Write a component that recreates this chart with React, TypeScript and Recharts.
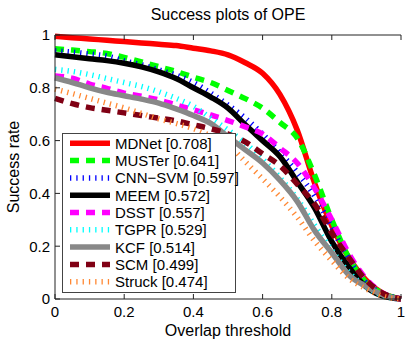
import React from "react";
import { LineChart, Line, XAxis, YAxis, Legend } from "recharts";

// overlap thresholds
const thresholds = [
  0, 0.05, 0.1, 0.15, 0.2, 0.25, 0.3, 0.35, 0.4, 0.45, 0.5, 0.55, 0.6, 0.65, 0.7, 0.75, 0.8, 0.85, 0.9, 0.95, 1,
];

const mdnet = [0.995, 0.99, 0.985, 0.98, 0.975, 0.97, 0.965, 0.96, 0.95, 0.94, 0.925, 0.895, 0.855, 0.775, 0.64, 0.44, 0.277, 0.155, 0.07, 0.02, 0];
const muster = [0.948, 0.943, 0.937, 0.93, 0.915, 0.898, 0.88, 0.862, 0.84, 0.82, 0.79, 0.759, 0.723, 0.669, 0.61, 0.47, 0.3, 0.155, 0.062, 0.02, 0];
const cnnSvm = [0.94, 0.935, 0.928, 0.92, 0.902, 0.887, 0.868, 0.848, 0.82, 0.78, 0.735, 0.685, 0.625, 0.555, 0.48, 0.39, 0.27, 0.15, 0.06, 0.02, 0];
const meem = [0.925, 0.918, 0.91, 0.903, 0.893, 0.879, 0.86, 0.835, 0.8, 0.765, 0.723, 0.66, 0.6, 0.54, 0.444, 0.345, 0.217, 0.12, 0.045, 0.01, 0];
const dsst = [0.845, 0.836, 0.814, 0.798, 0.78, 0.768, 0.754, 0.735, 0.717, 0.697, 0.676, 0.652, 0.625, 0.572, 0.515, 0.42, 0.3, 0.17, 0.075, 0.02, 0];
const tgpr = [0.87, 0.862, 0.85, 0.835, 0.82, 0.805, 0.785, 0.76, 0.73, 0.685, 0.64, 0.59, 0.53, 0.46, 0.38, 0.28, 0.185, 0.1, 0.045, 0.012, 0];
const kcf = [0.838, 0.82, 0.8, 0.783, 0.77, 0.757, 0.742, 0.72, 0.695, 0.665, 0.615, 0.565, 0.515, 0.45, 0.37, 0.26, 0.175, 0.09, 0.047, 0.015, 0];
const scm = [0.76, 0.74, 0.725, 0.715, 0.705, 0.695, 0.685, 0.675, 0.66, 0.645, 0.625, 0.595, 0.55, 0.505, 0.435, 0.36, 0.25, 0.155, 0.07, 0.02, 0];
const struck = [0.795, 0.778, 0.76, 0.742, 0.724, 0.703, 0.682, 0.665, 0.645, 0.618, 0.585, 0.52, 0.455, 0.387, 0.31, 0.22, 0.145, 0.078, 0.038, 0.01, 0];

const trackers = ["MDNet", "MUSTer", "CNN\u2212SVM", "MEEM", "DSST", "TGPR", "KCF", "SCM", "Struck"];
const scores = ["0.708", "0.641", "0.597", "0.572", "0.557", "0.529", "0.514", "0.499", "0.474"];
const values = [mdnet, muster, cnnSvm, meem, dsst, tgpr, kcf, scm, struck];

const axisTicks = [0, 0.2, 0.4, 0.6, 0.8, 1];

const DASH = "9 7";
const DOT = "1.3 5";
const styles = [
  { color: "#ff0000", dash: undefined },
  { color: "#00ff00", dash: DASH },
  { color: "#0000ff", dash: DOT },
  { color: "#000000", dash: undefined },
  { color: "#ff00ff", dash: DASH },
  { color: "#00ffff", dash: DOT },
  { color: "#888888", dash: undefined },
  { color: "#800014", dash: DASH },
  { color: "#ff8833", dash: DOT },
];

const data = thresholds.map((t, i) => {
  const row: Record<string, number> = { t };
  trackers.forEach((name, k) => {
    row[name] = values[k][i];
  });
  return row;
});

const FONT = '"Liberation Sans", Arial, Helvetica, sans-serif';
const AXIS = "#222";

function LegendBox() {
  return (
    <div
      style={{
        width: 174,
        height: 160,
        boxSizing: "border-box",
        border: "1px solid #444",
        background: "#fff",
      }}
    >
      <svg width={172} height={158} style={{ display: "block", overflow: "visible" }}>
        {trackers.map((name, i) => {
          const y = 9.3 + i * 17.3;
          return (
            <g key={name}>
              <line
                x1={7}
                x2={47}
                y1={y}
                y2={y}
                stroke={styles[i].color}
                strokeWidth={5.5}
                strokeDasharray={styles[i].dash}
              />
              <text
                x={52}
                y={y}
                dominantBaseline="central"
                fontSize={15}
                fontFamily={FONT}
                fill="#000"
              >
                {`${name} [${scores[i]}]`}
              </text>
            </g>
          );
        })}
      </svg>
    </div>
  );
}

export default function App() {
  return (
    <div style={{ position: "absolute", left: 0, top: 0, background: "#fff" }}>
      <LineChart
        width={411}
        height={341}
        data={data}
        margin={{ top: 0, right: 10, bottom: 0, left: 0 }}
        style={{ fontFamily: FONT }}
      >
        <XAxis
          xAxisId="b"
          dataKey="t"
          type="number"
          domain={[0, 1]}
          ticks={axisTicks}
          height={42}
          tickSize={-5}
          tickMargin={12}
          stroke={AXIS}
          tick={{ fontSize: 15, fill: "#000" }}
          label={{ value: "Overlap threshold", position: "insideBottom", offset: 5, fontSize: 16, fill: "#000" }}
        />
        <XAxis
          xAxisId="top"
          dataKey="t"
          type="number"
          orientation="top"
          domain={[0, 1]}
          ticks={axisTicks}
          height={35}
          tickSize={-5}
          stroke={AXIS}
          tickFormatter={() => ""}
          label={{ value: "Success plots of OPE", position: "insideTop", offset: 9, fontSize: 16, fill: "#000" }}
        />
        <YAxis
          yAxisId="l"
          type="number"
          domain={[0, 1]}
          ticks={axisTicks}
          width={55}
          tickSize={-5}
          tickMargin={10}
          stroke={AXIS}
          tick={{ fontSize: 15, fill: "#000" }}
          label={{
            value: "Success rate",
            angle: -90,
            position: "insideLeft",
            offset: 13,
            fontSize: 16,
            fill: "#000",
            style: { textAnchor: "middle" },
          }}
        />
        <YAxis
          yAxisId="r"
          type="number"
          orientation="right"
          domain={[0, 1]}
          ticks={axisTicks}
          width={0}
          tickSize={-5}
          stroke={AXIS}
          tickFormatter={() => ""}
        />
        {trackers.map((name, i) => (
          <Line
            key={name}
            xAxisId="b"
            yAxisId="l"
            type="monotone"
            dataKey={name}
            stroke={styles[i].color}
            strokeWidth={5.5}
            strokeDasharray={styles[i].dash}
            strokeLinejoin="round"
            dot={false}
            isAnimationActive={false}
          />
        ))}
        <Legend
          layout="vertical"
          align="center"
          verticalAlign="middle"
          wrapperStyle={{ left: 62, top: 133, width: 174, height: 160 }}
          content={() => <LegendBox />}
        />
      </LineChart>
    </div>
  );
}
